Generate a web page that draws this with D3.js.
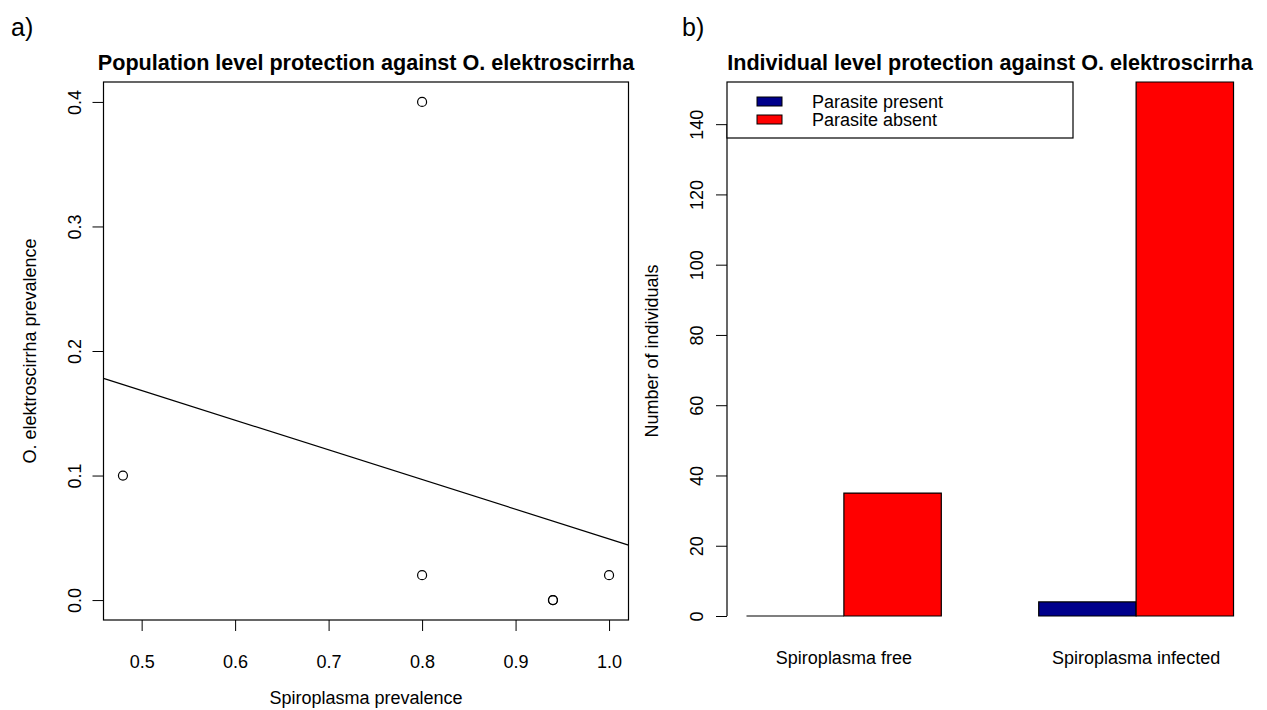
<!DOCTYPE html>
<html><head><meta charset="utf-8">
<script src="https://cdn.jsdelivr.net/npm/d3@7"></script>
<style>body{margin:0;background:#fff}svg text{font-family:"Liberation Sans",Arial,sans-serif;fill:#000}</style>
</head><body>
<svg id="c" width="1267" height="710"></svg>
<script>
// Panel a data
const spiroPrev = [0.48, 0.80, 0.80, 0.94, 0.94, 1.00];
const parasitePrev = [0.10, 0.40, 0.02, 0.00, 0.00, 0.02];
const fitIntercept = 0.2875, fitSlope = -0.2384;
const xTicksA = [0.5, 0.6, 0.7, 0.8, 0.9, 1.0];
const yTicksA = [0.0, 0.1, 0.2, 0.3, 0.4];
// Panel b data
const groups = ["Spiroplasma free", "Spiroplasma infected"];
const seriesNames = ["Parasite present", "Parasite absent"];
const seriesColors = ["#00008B", "#FF0000"];
const presentCounts = [0, 4];
const absentCounts = [35, 152];
const yTicksB = [0, 20, 40, 60, 80, 100, 120, 140];

const svg = d3.select("#c");
const fs = 18;
const fsTitle = 21.6;

// ---------- Panel a ----------
const A = {l:103.5, r:628.5, t:82, b:620};
const xA = d3.scaleLinear().domain([0.4592, 1.0208]).range([A.l, A.r]);
const yA = d3.scaleLinear().domain([-0.016, 0.416]).range([A.b, A.t]);
const ga = svg.append("g");
ga.append("rect").attr("x",A.l).attr("y",A.t).attr("width",A.r-A.l).attr("height",A.b-A.t)
  .attr("fill","none").attr("stroke","#000").attr("stroke-width",1.2);
const axA = ga.append("g").attr("transform",`translate(0,${A.b})`)
  .call(d3.axisBottom(xA).tickValues(xTicksA).tickFormat(d3.format(".1f")).tickSize(11).tickPadding(0));
axA.select(".domain").attr("stroke","none");
axA.selectAll(".tick line").attr("stroke","#000");
axA.selectAll(".tick text").attr("font-size",fs).attr("y",42).attr("dy","0.35em").attr("font-family","Liberation Sans, Arial");
const ayA = ga.append("g").attr("transform",`translate(${A.l},0)`)
  .call(d3.axisLeft(yA).tickValues(yTicksA).tickFormat(d3.format(".1f")).tickSize(11));
ayA.select(".domain").attr("stroke","none");
ayA.selectAll(".tick line").attr("stroke","#000");
ayA.selectAll(".tick text").attr("font-size",fs).attr("font-family","Liberation Sans, Arial")
  .attr("text-anchor","middle").attr("x",0)
  .attr("transform","translate(-29,0) rotate(-90)").attr("dy","0.35em");
// fit line
const x0 = xA.domain()[0], x1 = xA.domain()[1];
ga.append("line").attr("x1",xA(x0)).attr("y1",yA(fitIntercept+fitSlope*x0))
  .attr("x2",xA(x1)).attr("y2",yA(fitIntercept+fitSlope*x1)).attr("stroke","#000").attr("stroke-width",1.2);
ga.selectAll("circle").data(spiroPrev).join("circle")
  .attr("cx",d=>xA(d)).attr("cy",(d,i)=>yA(parasitePrev[i])).attr("r",4.5)
  .attr("fill","none").attr("stroke","#000").attr("stroke-width",1.2);
ga.append("text").attr("x",(A.l+A.r)/2).attr("y",62).attr("text-anchor","middle")
  .attr("font-weight","bold").attr("font-size",fsTitle).attr("dy","0.35em")
  .text("Population level protection against O. elektroscirrha");
ga.append("text").attr("x",(A.l+A.r)/2).attr("y",698).attr("text-anchor","middle")
  .attr("font-size",fs).attr("dy","0.35em").text("Spiroplasma prevalence");
ga.append("text").attr("transform",`translate(30,${(A.t+A.b)/2}) rotate(-90)`).attr("text-anchor","middle")
  .attr("font-size",fs).attr("dy","0.35em").text("O. elektroscirrha prevalence");
svg.append("text").attr("x",11).attr("y",36).attr("font-family","Liberation Serif, Times New Roman, serif")
  .attr("font-size",25).text("a)");

// ---------- Panel b ----------
const B = {l:727, r:1253, t:82, b:620};
const xB = d3.scaleLinear().domain([0.8, 6.2]).range([B.l, B.r]);
const yB = d3.scaleLinear().domain([0, 152]).range([616, 82]);
const gb = svg.append("g");
const bars = [];
groups.forEach((g,gi)=>{
  const start = 1 + gi*3;
  bars.push({x:start, v:presentCounts[gi], c:seriesColors[0]});
  bars.push({x:start+1, v:absentCounts[gi], c:seriesColors[1]});
});
gb.selectAll("path.bar").data(bars).join("path").attr("class","bar")
  .attr("d",d=>{
    const xl=xB(d.x), xr=xB(d.x+1), yt=yB(d.v), yb=yB(0);
    return `M${xl},${yb}L${xl},${yt}L${xr},${yt}L${xr},${yb}Z`;
  })
  .attr("fill",d=>d.c).attr("stroke","#000").attr("stroke-width",1.2);
const ayB = gb.append("g").attr("transform",`translate(${B.l},0)`)
  .call(d3.axisLeft(yB).tickValues(yTicksB).tickSize(11));
ayB.select(".domain").attr("d",`M-0,${yB(0)}V${yB(140)}`).attr("stroke","#000").attr("stroke-width",1.2);
ayB.selectAll(".tick line").attr("stroke","#000");
ayB.selectAll(".tick text").attr("font-size",fs).attr("font-family","Liberation Sans, Arial")
  .attr("text-anchor","middle").attr("x",0)
  .attr("transform","translate(-30,0) rotate(-90)").attr("dy","0.35em");
gb.selectAll("text.grp").data(groups).join("text").attr("class","grp")
  .attr("x",(d,i)=>xB(2+i*3)).attr("y",658).attr("text-anchor","middle").attr("dy","0.35em")
  .attr("font-size",fs).text(d=>d);
gb.append("text").attr("x",(B.l+B.r)/2).attr("y",62).attr("text-anchor","middle")
  .attr("font-weight","bold").attr("font-size",fsTitle).attr("dy","0.35em")
  .text("Individual level protection against O. elektroscirrha");
gb.append("text").attr("transform",`translate(652,${(B.t+B.b)/2}) rotate(-90)`).attr("text-anchor","middle")
  .attr("font-size",fs).attr("dy","0.35em").text("Number of individuals");
svg.append("text").attr("x",682).attr("y",36).attr("font-family","Liberation Serif, Times New Roman, serif")
  .attr("font-size",25).text("b)");
// legend
const lg = gb.append("g");
lg.append("rect").attr("x",727).attr("y",82).attr("width",346).attr("height",56)
  .attr("fill","#fff").attr("stroke","#000").attr("stroke-width",1.2);
seriesNames.forEach((n,i)=>{
  lg.append("rect").attr("x",757).attr("y",97+i*18).attr("width",25).attr("height",9)
    .attr("fill",seriesColors[i]).attr("stroke","#000").attr("stroke-width",1);
  lg.append("text").attr("x",812).attr("y",101.5+i*18).attr("dy","0.35em").attr("font-size",fs).text(n);
});
</script>
</body></html>
